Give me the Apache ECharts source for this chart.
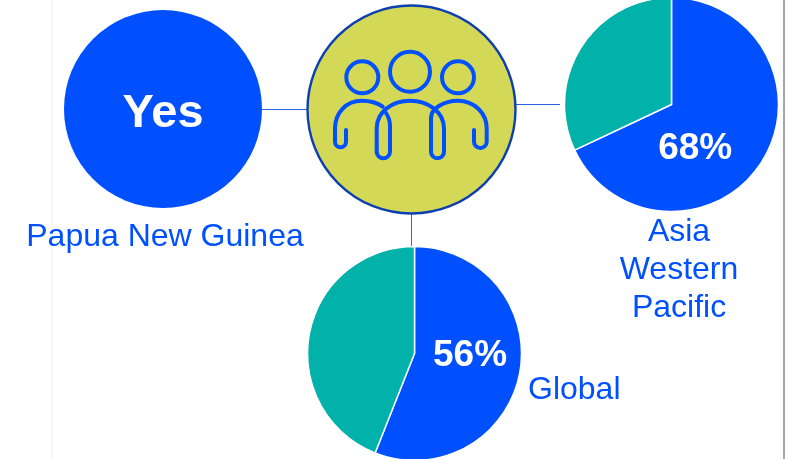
<!DOCTYPE html>
<html>
<head>
<meta charset="utf-8">
<title>Chart</title>
<style>
  html, body { margin: 0; padding: 0; background: #fff; }
  #main { width: 786px; height: 459px; }
</style>
<script src="https://cdn.jsdelivr.net/npm/echarts@6/dist/echarts.min.js"></script>
</head>
<body>
<div id="main"></div>
<script>
// values
const sliceNames = ['Yes', 'No'];
const asiaValues = [68, 32];
const globalValues = [56, 44];
const pngValues = [100];
const pngLabel = 'Yes';
const placeLabels = ['Papua New Guinea', 'Asia\nWestern\nPacific', 'Global'];

const BLUE = '#0050ff';
const TEAL = '#00b2a9';
const LINE = '#2a62e6';
const FONT = '"Liberation Sans", Arial, sans-serif';
const sliceColors = [BLUE, TEAL];

function shareLabel(formatter, offset, size) {
  return {
    show: true,
    position: 'inside',
    formatter: formatter,
    color: '#fff',
    fontFamily: FONT,
    fontWeight: 'bold',
    fontSize: size,
    offset: offset
  };
}

// pie with a white label on the blue slice only
function sharePie(center, radius, values, offset) {
  return {
    type: 'pie',
    silent: true,
    clockwise: true,
    startAngle: 90,
    center: center,
    radius: [0, radius],
    labelLine: { show: false },
    label: { show: false },
    data: values.map((v, i) => {
      const d = {
        name: sliceNames[i],
        value: v,
        itemStyle: { color: sliceColors[i], borderColor: '#fff', borderWidth: 1.5 }
      };
      if (i === 0) d.label = shareLabel('{c}%', offset, 37);
      return d;
    })
  };
}

// people icon in the middle circle
const iconPaths = [
  'M382.7 106.7 C377 102.5 370 100.7 361.7 100.7 C346 100.7 335 113 335 128.3 L335 141.7 A5.5 5.5 0 0 0 346 141.7 L346 130',
  'M376.7 151.7 L376.7 128.3 C376.7 112 392 100.7 410 100.7 C428 100.7 444 112 444 128.3 L444 151.7 A6.5 6.5 0 0 1 431 151.7 L431 118',
  'M376.7 151.7 A6.6 6.6 0 0 0 390 151.7 L390 126 C390 120 388 116 386 113',
  'M431 118 C431 109 443 100.7 458 100.7 C474 100.7 486.7 113 486.7 128.3 L486.7 141.7 A6.3 6.3 0 0 1 474 141.7 L474 130'
];
const iconHeads = [[362.3, 77.3, 16], [410, 71.7, 20], [458, 77.3, 16]];

const iconStyle = { fill: null, stroke: BLUE, lineWidth: 4, lineCap: 'round', lineJoin: 'round' };

function renderIcon() {
  const children = iconPaths.map(p => ({
    type: 'path',
    shape: { pathData: p },
    style: iconStyle
  }));
  iconHeads.forEach(h => {
    children.push({
      type: 'circle',
      shape: { cx: h[0], cy: h[1], r: h[2] },
      style: iconStyle
    });
  });
  return { type: 'group', children: children };
}

function placeText(text, x, y, align) {
  return {
    type: 'text',
    x: x,
    y: y,
    style: {
      text: text,
      fill: BLUE,
      font: '32px ' + FONT,
      lineHeight: 38,
      align: align,
      verticalAlign: 'middle'
    }
  };
}

function connector(x1, y1, x2, y2) {
  return {
    type: 'line',
    z: -1,
    shape: { x1: x1, y1: y1, x2: x2, y2: y2 },
    style: { stroke: LINE, lineWidth: 1 }
  };
}

function edge(x, width, fill) {
  return {
    type: 'rect',
    z: -1,
    shape: { x: x, y: 0, width: width, height: 459 },
    style: { fill: fill }
  };
}

const chart = echarts.init(document.getElementById('main'));

const option = {
  animation: false,
  backgroundColor: '#fff',
  graphic: [
    // page edges from the source slide
    edge(51, 2, '#f6f6f6'),
    edge(783, 2, '#a6a6a6'),
    connector(262, 109.5, 307, 109.5),
    connector(516, 104.5, 560, 104.5),
    connector(411.5, 214, 411.5, 247),
    placeText(placeLabels[0], 165, 237, 'center'),
    placeText(placeLabels[1], 679, 270, 'center'),
    placeText(placeLabels[2], 528, 390, 'left')
  ],
  series: [
    {
      type: 'pie',
      silent: true,
      center: [163, 109],
      radius: [0, 99],
      label: {
        show: true,
        position: 'center',
        formatter: pngLabel,
        color: '#fff',
        fontFamily: FONT,
        fontWeight: 'bold',
        fontSize: 47,
        offset: [0, 5]
      },
      labelLine: { show: false },
      data: pngValues.map(v => ({ name: pngLabel, value: v, itemStyle: { color: BLUE } }))
    },
    sharePie([671.5, 104.5], 107, asiaValues, [-24, 14]),
    sharePie([414.5, 353.5], 107, globalValues, [0, -8]),
    {
      type: 'pie',
      silent: true,
      center: [411.5, 109.5],
      radius: [0, 104],
      label: { show: false },
      labelLine: { show: false },
      data: [{
        name: 'People',
        value: 1,
        itemStyle: { color: '#d3d957', borderColor: '#0d3fb0', borderWidth: 2.4 }
      }]
    },
    {
      type: 'custom',
      coordinateSystem: 'none',
      silent: true,
      z: 5,
      renderItem: renderIcon,
      data: [0]
    }
  ]
};

chart.setOption(option);
</script>
</body>
</html>
